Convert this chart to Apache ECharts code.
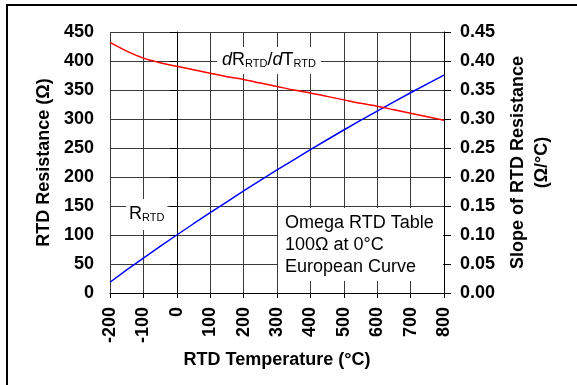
<!DOCTYPE html>
<html>
<head>
<meta charset="utf-8">
<script src="https://cdn.jsdelivr.net/npm/echarts@6/dist/echarts.min.js"></script>
<style>
  html, body { margin: 0; padding: 0; background: #fff; }
  #chart { width: 577px; height: 385px; }
</style>
</head>
<body>
<div id="chart"></div>
<script>
// RTD temperature (°C), read every 50 degrees
const temps = [-200, -150, -100, -50, 0, 50, 100, 150, 200, 250, 300,
  350, 400, 450, 500, 550, 600, 650, 700, 750, 800];

// RTD resistance (ohm), left axis
const resistance = [18.5, 39.7, 60.3, 80.3, 100.0, 119.4, 138.5, 157.3, 175.9, 194.1, 212.1,
  229.7, 247.1, 264.2, 281.0, 297.5, 313.7, 329.6, 345.3, 360.6, 375.7];

// slope dR/dT (ohm/°C), right axis
const slope = [0.432, 0.417, 0.405, 0.397, 0.391, 0.385, 0.379, 0.373, 0.368, 0.362, 0.356,
  0.350, 0.345, 0.339, 0.333, 0.327, 0.322, 0.316, 0.310, 0.304, 0.298];

const boxLines = ['Omega RTD Table', '100Ω at 0°C', 'European Curve'];

const FONT = 'Arial, "Liberation Sans", sans-serif';
const chart = echarts.init(document.getElementById('chart'));

const tickLabel = { color: '#000', fontFamily: FONT, fontSize: 18, fontWeight: 'bold' };

const option = {
  animation: false,
  backgroundColor: '#fff',
  grid: { left: 110, right: 133, top: 32, bottom: 92 },
  xAxis: {
    type: 'value',
    min: -200, max: 800, interval: 100,
    name: 'RTD Temperature (°C)',
    nameLocation: 'middle',
    nameGap: 56,
    nameTextStyle: { color: '#000', fontFamily: FONT, fontSize: 18, fontWeight: 'bold' },
    axisLine: { lineStyle: { color: '#000', width: 1 } },
    axisTick: { show: true, length: 5, lineStyle: { color: '#000' } },
    axisLabel: Object.assign({ rotate: 90, margin: 14 }, tickLabel),
    splitLine: { show: true, lineStyle: { color: '#3a3a3a', width: 1 } }
  },
  yAxis: [
    {
      type: 'value',
      position: 'left',
      min: 0, max: 450, interval: 50,
      name: 'RTD Resistance (Ω)',
      nameLocation: 'middle',
      nameRotate: 90,
      nameGap: 53,
      nameTextStyle: { color: '#000', fontFamily: FONT, fontSize: 18, fontWeight: 'bold' },
      axisLine: { show: true, lineStyle: { color: '#000', width: 1 } },
      axisTick: { show: true, length: 7, lineStyle: { color: '#000' } },
      axisLabel: Object.assign({ margin: 16 }, tickLabel),
      splitLine: { show: true, lineStyle: { color: '#3a3a3a', width: 1 } }
    },
    {
      type: 'value',
      position: 'right',
      min: 0, max: 0.45, interval: 0.05,
      name: 'Slope of RTD Resistance\n(Ω/°C)',
      nameLocation: 'middle',
      nameRotate: 90,
      nameGap: 54,
      nameTextStyle: { color: '#000', fontFamily: FONT, fontSize: 18, fontWeight: 'bold', lineHeight: 24 },
      axisLine: { show: true, lineStyle: { color: '#000', width: 1 } },
      axisTick: { show: true, length: 7, lineStyle: { color: '#000' } },
      axisLabel: Object.assign({ margin: 16, formatter: v => v.toFixed(2) }, tickLabel),
      splitLine: { show: false }
    }
  ],
  series: [
    {
      name: 'R_RTD',
      type: 'line',
      yAxisIndex: 0,
      data: temps.map((t, i) => [t, resistance[i]]),
      showSymbol: false,
      lineStyle: { color: '#0000ff', width: 1.5 },
      z: 5
    },
    {
      name: 'dR/dT',
      type: 'line',
      yAxisIndex: 1,
      smooth: 0.3,
      data: temps.map((t, i) => [t, slope[i]]),
      showSymbol: false,
      lineStyle: { color: '#ff0000', width: 1.5 },
      z: 5
    }
  ],
  graphic: [
    // outer frame
    {
      type: 'rect', z: 20,
      shape: { x: 7, y: 5, width: 620, height: 420 },
      style: { fill: 'none', stroke: '#000', lineWidth: 2 }
    },
    // dR/dT label
    {
      type: 'text', z: 4, left: 217, top: 47,
      style: {
        text: '{i|d}{n|R}{s|RTD}{n|/}{i|d}{n|T}{s|RTD}',
        backgroundColor: '#fff',
        padding: [4, 5, 5, 5],
        rich: {
          i: { fontFamily: FONT, fontSize: 18, fontStyle: 'italic', fill: '#000', verticalAlign: 'bottom' },
          n: { fontFamily: FONT, fontSize: 18, fill: '#000', verticalAlign: 'bottom' },
          s: { fontFamily: FONT, fontSize: 11, fill: '#000', verticalAlign: 'bottom' }
        }
      }
    },
    // R_RTD label
    {
      type: 'text', z: 4, left: 126, top: 199,
      style: {
        text: '{n|R}{s|RTD}',
        backgroundColor: '#fff',
        padding: [6, 3, 7, 3],
        rich: {
          n: { fontFamily: FONT, fontSize: 18, fill: '#000', verticalAlign: 'bottom' },
          s: { fontFamily: FONT, fontSize: 11, fill: '#000', verticalAlign: 'bottom' }
        }
      }
    },
    // info box
    {
      type: 'rect', z: 4,
      shape: { x: 278, y: 208, width: 165, height: 73 },
      style: { fill: '#fff' }
    },
    {
      type: 'text', z: 4, left: 285, top: 212,
      style: {
        text: boxLines.join('\n'),
        fontFamily: FONT, fontSize: 18, lineHeight: 22, fill: '#000'
      }
    }
  ]
};

chart.setOption(option);
</script>
</body>
</html>
